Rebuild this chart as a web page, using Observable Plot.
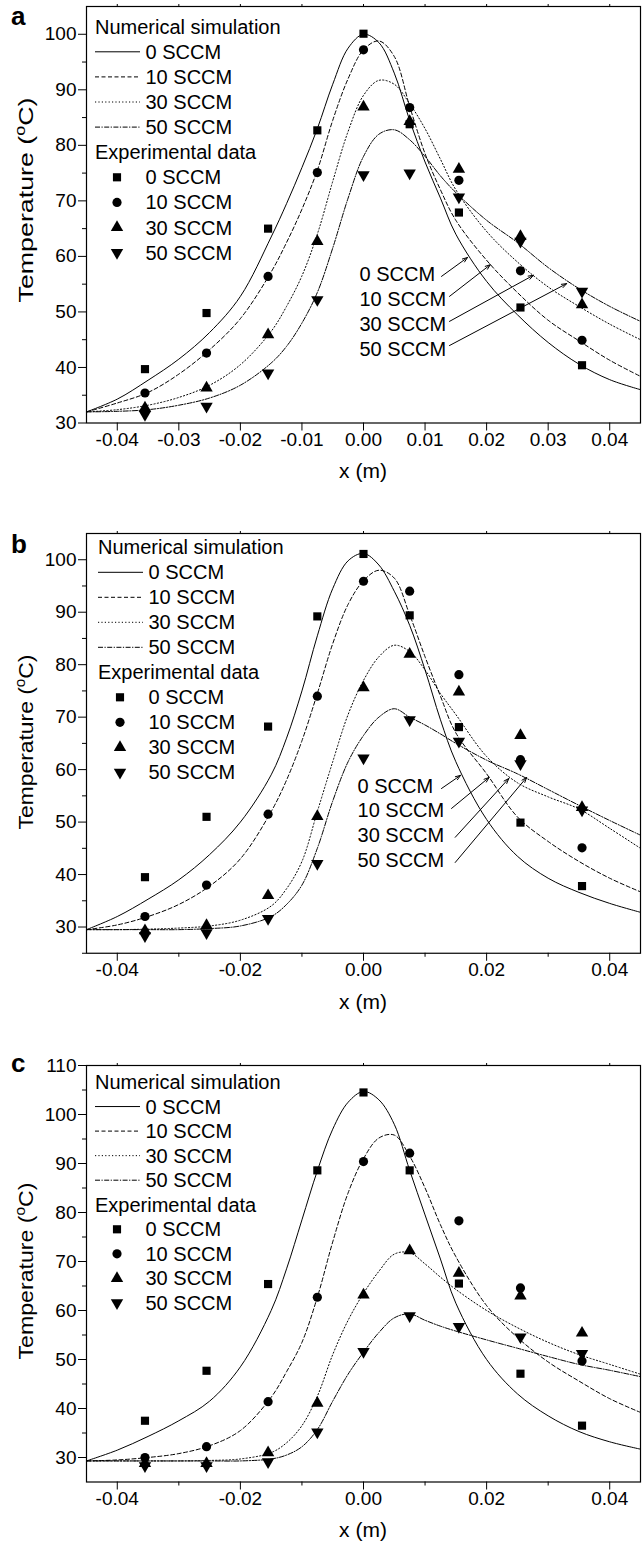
<!DOCTYPE html>
<html><head><meta charset="utf-8">
<script src="https://cdn.jsdelivr.net/npm/d3@7"></script>
<script src="https://cdn.jsdelivr.net/npm/@observablehq/plot@0.6"></script>
<style>
body{margin:0;background:#fff;}
#chart svg{display:block;}
</style></head><body><div id="chart"></div>
<script>
// ---------- data ----------
const seriesNames = ["0 SCCM", "10 SCCM", "30 SCCM", "50 SCCM"];
const xExp = [-0.0355, -0.0255, -0.0155, -0.0075, 0, 0.0075, 0.0155, 0.0255, 0.0355];
const xSim = [-0.045, -0.04, -0.035, -0.03, -0.025, -0.02, -0.015, -0.0125, -0.01, -0.0075, -0.005, -0.0025, 0,
              0.0025, 0.005, 0.0075, 0.01, 0.0125, 0.015, 0.02, 0.025, 0.03, 0.035, 0.04, 0.045];

// panel a
const simA_0  = [32, 34.3, 37.7, 41.5, 46.3, 52.8, 63.5, 69.5, 76, 83, 91, 97.5, 100, 98.5, 93, 84.5, 77, 70.5, 64, 55.5, 49.5, 44.5, 40.6, 37.8, 36];
const simA_10 = [32, 33.6, 35.5, 38.8, 43.2, 48.8, 57.2, 62.5, 68.5, 75.5, 84.5, 92, 97.2, 98.8, 96, 87, 78.5, 72, 66.5, 59.3, 53.5, 48.5, 44.8, 41.3, 38.4];
const simA_30 = [32, 32.4, 33.2, 34.6, 36.8, 40.5, 46.5, 51, 56.5, 64, 73.5, 82.5, 89, 91.7, 91, 87.5, 83, 77.5, 72, 64.5, 59, 54.5, 51, 47.8, 45];
const simA_50 = [32, 32.1, 32.4, 33.2, 34.5, 36.8, 40.8, 43.8, 48, 53.5, 61.5, 70.5, 78, 82, 82.8, 81, 78, 74.5, 71.5, 66.5, 62.5, 58, 54.2, 51, 48.3];
const expA_0  = [39.7, 49.8, 65.0, 82.7, 100.1, 83.8, 67.9, 50.8, 40.4];
const expA_10 = [35.4, 42.6, 56.4, 75.1, 97.2, 86.8, 73.7, 57.4, 44.9];
const expA_30 = [32.7, 36.3, 45.9, 62.7, 86.9, 84.3, 75.7, 63.6, 51.3];
const expA_50 = [31.5, 33.0, 39.0, 52.2, 74.7, 75.0, 70.7, 62.7, 53.7];
const annA_textX = [-0.00065, -0.00065, -0.00065, -0.00065];
const annA_textY = [56.7, 52.2, 47.7, 43.2];
const annA_tailX = [0.01267, 0.01397, 0.01397, 0.01397];
const annA_tailY = [56.4, 52.8, 48.3, 43.95];
const annA_headX = [0.0169, 0.0206, 0.0276, 0.033];
const annA_headY = [59.8, 58.5, 56.6, 55.1];

// panel b
const simB_0  = [29.5, 32, 35.3, 39, 43.8, 50, 59, 66, 75, 85.5, 94.5, 99.8, 101.2, 99, 94, 87.5, 79, 69.5, 61.5, 50.5, 43.5, 39.3, 36.6, 34.5, 32.8];
const simB_10 = [29.5, 30.4, 32, 34.3, 37.8, 43, 52, 58, 65.5, 74.5, 84, 91.5, 96, 98, 96.5, 89.5, 81.5, 74, 67, 59.2, 51, 46.3, 42.5, 39.3, 36.7];
const simB_30 = [29.5, 29.5, 29.6, 29.8, 30.2, 31.3, 34, 37.3, 42.5, 52, 61.5, 70.5, 77, 81.5, 83.7, 82.5, 79, 74.5, 70.5, 62.5, 57.5, 54.8, 52.5, 48.8, 45];
const simB_50 = [29.5, 29.5, 29.5, 29.5, 29.7, 30.2, 32, 34.3, 38, 45, 54, 61.5, 66.5, 70, 71.6, 70, 68.5, 66.8, 65, 61.8, 59.2, 56.2, 53.2, 50.3, 47.5];
const expB_0  = [39.5, 51.0, 68.2, 89.2, 101.1, 89.4, 68.1, 49.9, 37.8];
const expB_10 = [32.0, 38.0, 51.5, 74.0, 95.9, 94.0, 78.1, 61.9, 45.1];
const expB_30 = [29.3, 30.3, 36.0, 51.1, 75.6, 82.0, 74.8, 66.5, 52.8];
const expB_50 = [28.3, 28.9, 31.6, 42.1, 62.2, 69.5, 65.4, 61.1, 52.3];
const annB_textX = [-0.00097, -0.00097, -0.00097, -0.00097];
const annB_textY = [56.8, 52.2, 47.5, 42.7];
const annB_tailX = [0.01267, 0.0143, 0.0149, 0.0149];
const annB_tailY = [56.4, 52.6, 47.1, 42.3];
const annB_headX = [0.01576, 0.0204, 0.0236, 0.0265];
const annB_headY = [58.9, 58.5, 58.3, 58.5];

// panel c
const simC_0  = [29.3, 31.5, 34.3, 37.5, 41.5, 48.5, 60, 68.5, 78.5, 88.5, 97, 102.5, 104.7, 103, 98, 88.6, 79.5, 70.5, 61.5, 50, 43, 38.5, 35.3, 33.2, 31.7];
const simC_10 = [29.3, 29.5, 30, 30.8, 32.4, 35.5, 42.3, 47.5, 53.5, 62.7, 74, 84, 91, 95.2, 95.8, 91.5, 85, 77.5, 71, 61, 54.5, 49.5, 45.6, 42, 39.2];
const simC_30 = [29.3, 29.3, 29.3, 29.3, 29.4, 29.7, 31, 33, 36.5, 42.5, 51, 58, 63.5, 68, 71.5, 71.8, 69.5, 66.8, 64.3, 60, 56.5, 53.5, 51, 49, 47];
const simC_50 = [29.3, 29.3, 29.3, 29.3, 29.3, 29.3, 29.7, 30.5, 32.2, 35.7, 41.5, 47, 51.5, 55.5, 58.5, 59.3, 58, 56.8, 55.8, 54, 52.3, 50.6, 49, 47.8, 46.5];
const expC_0  = [37.5, 47.7, 65.4, 88.6, 104.5, 88.6, 65.5, 47.1, 36.5];
const expC_10 = [30.0, 32.2, 41.4, 62.7, 90.4, 92.1, 78.3, 64.6, 49.7];
const expC_30 = [28.8, 28.8, 31.0, 41.1, 63.2, 72.2, 67.6, 63.0, 55.4];
const expC_50 = [28.3, 28.3, 29.1, 35.2, 51.6, 58.9, 56.7, 54.6, 51.2];

// ticks
const xTicksA = [-0.04, -0.03, -0.02, -0.01, 0, 0.01, 0.02, 0.03, 0.04];
const xTicksBC = [-0.04, -0.02, 0, 0.02, 0.04];
const xMinorBC = [-0.03, -0.01, 0.01, 0.03];
const yTicksAB = [30, 40, 50, 60, 70, 80, 90, 100];
const yMinorA = [35, 45, 55, 65, 75, 85, 95];
const yMinorB = [25, 35, 45, 55, 65, 75, 85, 95];
const yTicksC = [30, 40, 50, 60, 70, 80, 90, 100, 110];
const yMinorC = [35, 45, 55, 65, 75, 85, 95, 105];

// ---------- drawing ----------
const FONT = "'Liberation Sans', Arial, Helvetica, sans-serif";
const dashes = [null, "4,2.5", "1.2,2.2", "5,1.5,1.2,1.5"];
const symbols = [{s: "square", rot: 0}, {s: "circle", rot: 0}, {s: "triangle", rot: 0}, {s: "triangle", rot: 180}];
const R = 4.6;

function panel(cfg) {
  const marks = [
    Plot.axisY(cfg.yTicks, {tickSize: 8, tickPadding: 2, label: null, tickFormat: d => String(d), fontSize: 19}),
    Plot.axisY(cfg.yMinor, {tickSize: 4, text: null, label: null}),
    Plot.axisX(cfg.xTicks, {tickSize: 8, tickPadding: 1, label: null, tickFormat: d => d.toFixed(2), fontSize: 19}),
    Plot.axisX(cfg.xTicks, {anchor: "top", tickSize: 3, text: null, label: null})
  ];
  if (cfg.xMinor) marks.push(Plot.axisX(cfg.xMinor, {tickSize: 4, text: null, label: null}));
  cfg.sim.forEach((vals, i) => {
    const rows = xSim.map((x, j) => ({x, y: vals[j]}));
    marks.push(Plot.line(rows, {x: "x", y: "y", stroke: "#000", strokeWidth: 1, strokeDasharray: dashes[i], curve: "catmull-rom"}));
  });
  cfg.exp.forEach((vals, i) => {
    const rows = xExp.map((x, j) => ({x, y: vals[j]}));
    marks.push(Plot.dot(rows, {x: "x", y: "y", r: R, symbol: symbols[i].s, rotate: symbols[i].rot, fill: "#000", stroke: "none"}));
  });
  if (cfg.ann) {
    const a = cfg.ann;
    const rows = seriesNames.map((s, i) => ({label: s, tx: a.textX[i], ty: a.textY[i], x1: a.tailX[i], y1: a.tailY[i], x2: a.headX[i], y2: a.headY[i]}));
    marks.push(Plot.arrow(rows, {x1: "x1", y1: "y1", x2: "x2", y2: "y2", stroke: "#000", strokeWidth: 1, headLength: 8, headAngle: 40}));
    marks.push(Plot.text(rows, {x: "tx", y: "ty", text: "label", textAnchor: "start", fontSize: 20, fill: "#000"}));
  }
  marks.push(Plot.frame({stroke: "#000", strokeWidth: 1.2}));

  const svg = Plot.plot({
    width: 642, height: cfg.height,
    marginLeft: 86, marginRight: 2, marginTop: cfg.marginTop, marginBottom: cfg.marginBottom,
    x: {domain: [-0.045, 0.045]},
    y: {domain: cfg.yDomain},
    style: {fontFamily: FONT, fontSize: "19px", color: "#000", background: "#fff", overflow: "visible"},
    marks
  });

  const g = d3.select(svg).append("g").attr("font-family", FONT).attr("fill", "#000").attr("text-anchor", "start");
  const bottom = cfg.height - cfg.marginBottom;
  // panel letter
  g.append("text").attr("x", 11).attr("y", cfg.letterY).attr("font-size", 26).attr("font-weight", "bold").text(cfg.letter);
  // y title
  const yt = g.append("text").attr("transform", `translate(33,${cfg.yTitleC}) rotate(-90)`)
    .attr("text-anchor", "middle").attr("font-size", 21)
    .attr("textLength", cfg.yTitleLen).attr("lengthAdjust", "spacingAndGlyphs");
  yt.append("tspan").text("Temperature (");
  yt.append("tspan").attr("font-size", 14).attr("baseline-shift", "super").text("o");
  yt.append("tspan").text("C)");
  // x title
  g.append("text").attr("x", 363).attr("y", bottom + 48.5).attr("dy", "0.35em").attr("text-anchor", "middle").attr("font-size", 21).text("x (m)");
  // legend
  const L = cfg.legend;
  const lg = g.append("g").attr("font-size", 20).attr("text-anchor", "start");
  const row = i => L.top + L.step * i;
  lg.append("text").attr("x", L.left).attr("y", row(0)).attr("dy", "0.35em").text("Numerical simulation");
  seriesNames.forEach((s, i) => {
    const y = row(i + 1);
    lg.append("line").attr("x1", L.left).attr("x2", L.left + 45).attr("y1", y).attr("y2", y)
      .attr("stroke", "#000").attr("stroke-width", 1).attr("stroke-dasharray", dashes[i]);
    lg.append("text").attr("x", L.left + 50.5).attr("y", y).attr("dy", "0.35em").text(s);
  });
  lg.append("text").attr("x", L.left).attr("y", row(5)).attr("dy", "0.35em").text("Experimental data");
  const symMap = {square: d3.symbolSquare, circle: d3.symbolCircle, triangle: d3.symbolTriangle};
  seriesNames.forEach((s, i) => {
    const y = row(i + 6);
    lg.append("path").attr("d", d3.symbol(symMap[symbols[i].s], R * R * Math.PI)())
      .attr("transform", `translate(${L.left + 22},${y}) rotate(${symbols[i].rot})`).attr("fill", "#000");
    lg.append("text").attr("x", L.left + 50.5).attr("y", y).attr("dy", "0.35em").text(s);
  });
  return svg;
}

const chart = document.getElementById("chart");
chart.append(panel({
  height: 500, marginTop: 6, marginBottom: 77.5, yDomain: [30, 105],
  yTicks: yTicksAB, yMinor: yMinorA, xTicks: xTicksA, xMinor: null,
  sim: [simA_0, simA_10, simA_30, simA_50], exp: [expA_0, expA_10, expA_30, expA_50],
  ann: {textX: annA_textX, textY: annA_textY, tailX: annA_tailX, tailY: annA_tailY, headX: annA_headX, headY: annA_headY},
  letter: "a", letterY: 25, yTitleC: 200, yTitleLen: 205,
  legend: {left: 95, top: 26.7, step: 25.1}
}));
chart.append(panel({
  height: 530, marginTop: 33, marginBottom: 77.25, yDomain: [25, 105],
  yTicks: yTicksAB, yMinor: yMinorB, xTicks: xTicksBC, xMinor: xMinorBC,
  sim: [simB_0, simB_10, simB_30, simB_50], exp: [expB_0, expB_10, expB_30, expB_50],
  ann: {textX: annB_textX, textY: annB_textY, tailX: annB_tailX, tailY: annB_tailY, headX: annB_headX, headY: annB_headY},
  letter: "b", letterY: 53, yTitleC: 242, yTitleLen: 175,
  legend: {left: 98, top: 47.3, step: 25}
}));
chart.append(panel({
  height: 514, marginTop: 35, marginBottom: 62.5, yDomain: [25, 110],
  yTicks: yTicksC, yMinor: yMinorC, xTicks: xTicksBC, xMinor: xMinorBC,
  sim: [simC_0, simC_10, simC_30, simC_50], exp: [expC_0, expC_10, expC_30, expC_50],
  ann: null,
  letter: "c", letterY: 42, yTitleC: 241, yTitleLen: 177,
  legend: {left: 95, top: 52, step: 24.55}
}));
</script>
</body></html>
